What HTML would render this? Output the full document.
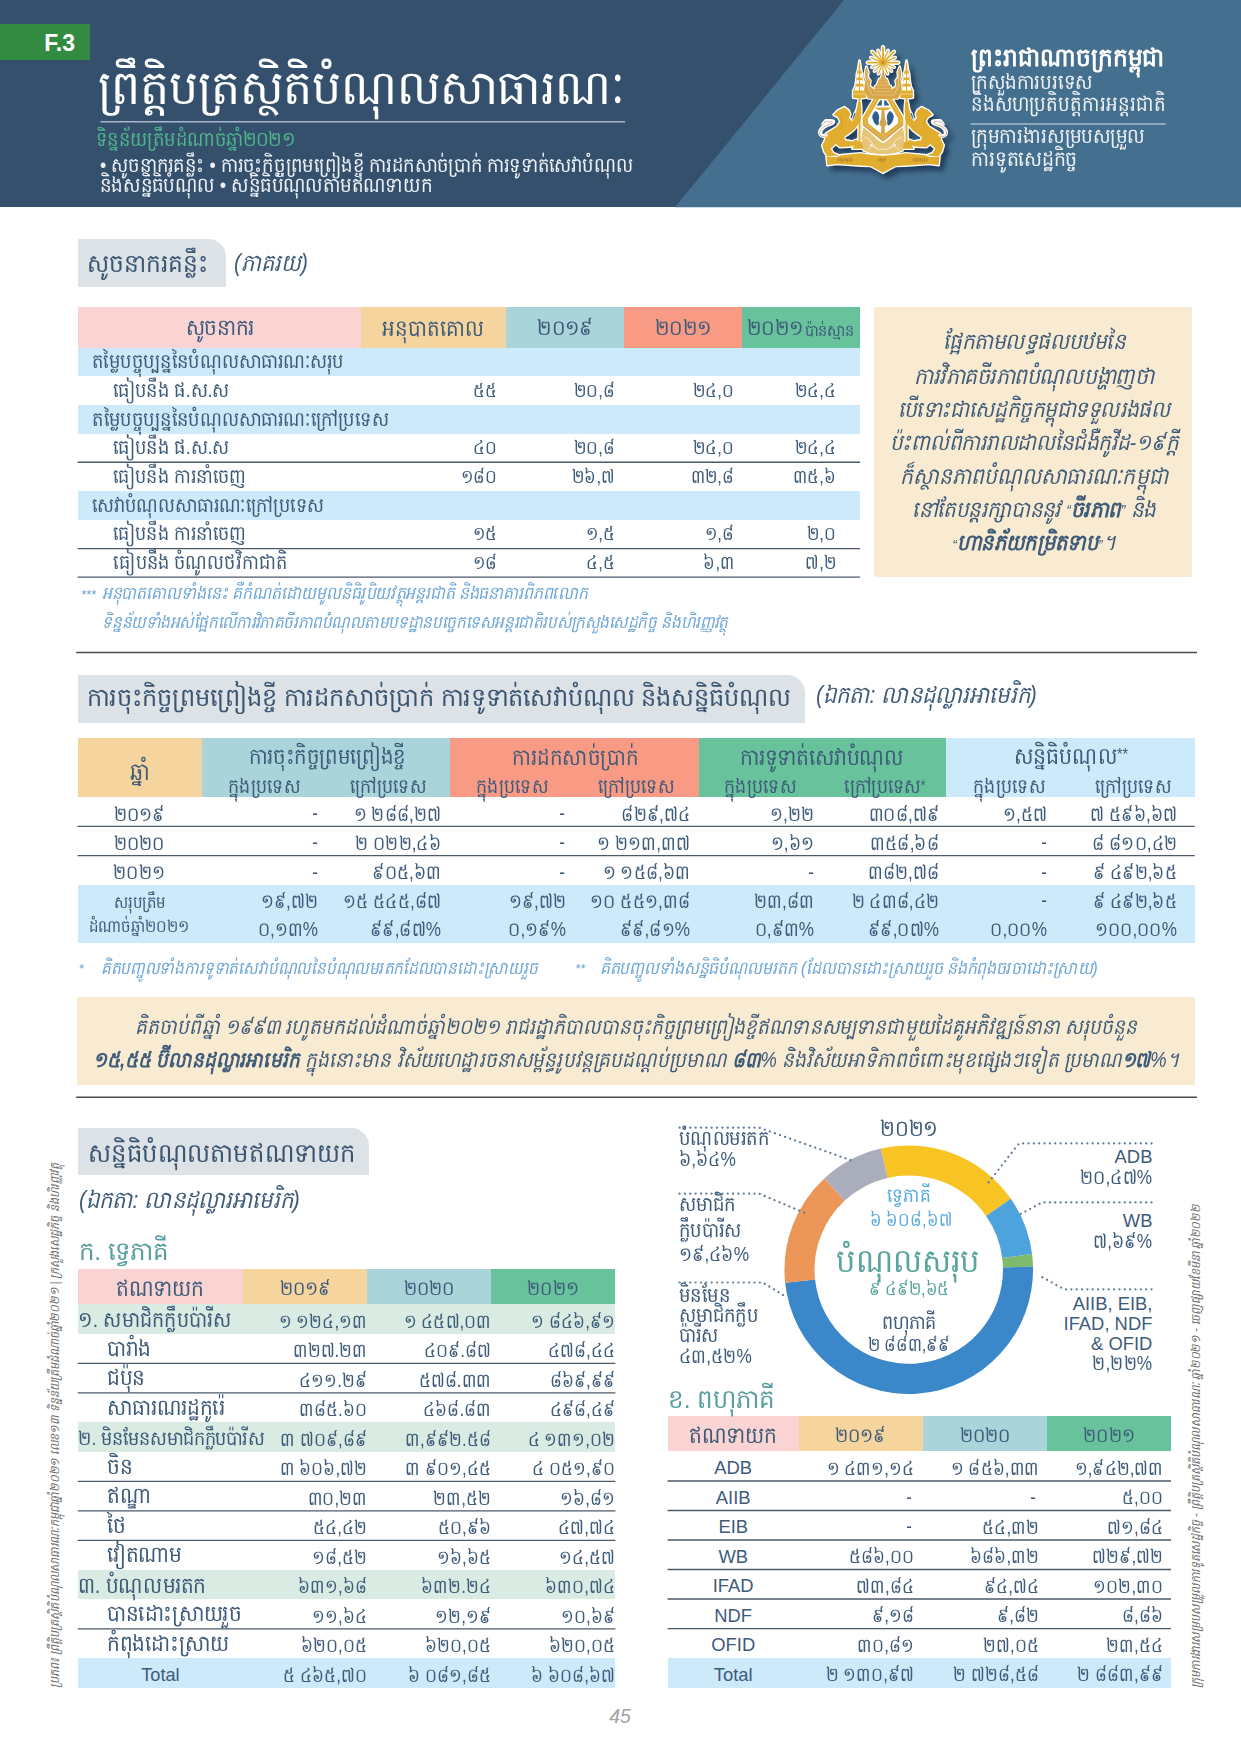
<!DOCTYPE html>
<html lang="km"><head><meta charset="utf-8"><title>F.3</title>
<style>
html,body{margin:0;padding:0;background:#fff}
body{width:1241px;height:1754px;position:relative;overflow:hidden;font-family:"Liberation Sans", sans-serif;color:#3e5b7a}
.r{position:absolute}
.t{position:absolute;white-space:nowrap;line-height:40px;height:40px}
.l{text-align:left;transform-origin:0 50%}.c{text-align:center;width:1800px;transform-origin:50% 50%}.e{text-align:right;width:1800px;transform-origin:100% 50%}
svg{position:absolute;left:0;top:0}
</style></head>
<body>

<div class="r" style="left:0px;top:0px;width:1241px;height:207px;background:#35506c;"></div>
<svg width="1241" height="208" viewBox="0 0 1241 208"><polygon points="844,0 1241,0 1241,207.3 675,207.3" fill="#456f8f"/></svg>
<div class="r" style="left:0px;top:24px;width:90px;height:36px;background:#338a41;"></div>
<div class="r" style="left:78px;top:239px;width:148px;height:48px;background:#dde2e6;border-top-right-radius:18px;"></div>
<div class="r" style="left:78px;top:307px;width:283px;height:41px;background:#f9d4d2;"></div>
<div class="r" style="left:361px;top:307px;width:145px;height:41px;background:#f6d49d;"></div>
<div class="r" style="left:506px;top:307px;width:118px;height:41px;background:#a9d4da;"></div>
<div class="r" style="left:624px;top:307px;width:118px;height:41px;background:#f99b84;"></div>
<div class="r" style="left:742px;top:307px;width:118px;height:41px;background:#68c39d;"></div>
<div class="r" style="left:78px;top:348px;width:782px;height:28px;background:#cdeafb;"></div>
<div class="r" style="left:78px;top:405px;width:782px;height:29px;background:#cdeafb;"></div>
<div class="r" style="left:78px;top:491px;width:782px;height:29px;background:#cdeafb;"></div>
<div class="r" style="left:874px;top:307px;width:318px;height:270px;background:#f8ebd1;"></div>
<div class="r" style="left:78px;top:675px;width:727px;height:48px;background:#dde2e6;border-top-right-radius:18px;"></div>
<div class="r" style="left:78px;top:738px;width:124px;height:59px;background:#f6d49d;"></div>
<div class="r" style="left:202px;top:738px;width:248px;height:59px;background:#a9d4da;"></div>
<div class="r" style="left:450px;top:738px;width:249px;height:59px;background:#f99b84;"></div>
<div class="r" style="left:699px;top:738px;width:247px;height:59px;background:#68c39d;"></div>
<div class="r" style="left:946px;top:738px;width:249px;height:59px;background:#cdeafb;"></div>
<div class="r" style="left:78px;top:885px;width:1117px;height:58px;background:#cdeafb;"></div>
<div class="r" style="left:77px;top:997px;width:1118px;height:88px;background:#f8ebd1;"></div>
<div class="r" style="left:78px;top:1128px;width:291px;height:47px;background:#dde2e6;border-top-right-radius:18px;"></div>
<div class="r" style="left:78px;top:1269px;width:165px;height:35px;background:#f9d4d2;"></div>
<div class="r" style="left:243px;top:1269px;width:124px;height:35px;background:#f6d49d;"></div>
<div class="r" style="left:367px;top:1269px;width:124px;height:35px;background:#a9d4da;"></div>
<div class="r" style="left:491px;top:1269px;width:124px;height:35px;background:#68c39d;"></div>
<div class="r" style="left:78px;top:1304px;width:537px;height:30px;background:#d9ebe2;"></div>
<div class="r" style="left:78px;top:1422px;width:537px;height:30px;background:#d9ebe2;"></div>
<div class="r" style="left:78px;top:1570px;width:537px;height:29px;background:#d9ebe2;"></div>
<div class="r" style="left:78px;top:1658px;width:537px;height:30px;background:#cdeafb;"></div>
<div class="r" style="left:668px;top:1416px;width:131px;height:35px;background:#f9d4d2;"></div>
<div class="r" style="left:799px;top:1416px;width:124px;height:35px;background:#f6d49d;"></div>
<div class="r" style="left:923px;top:1416px;width:124px;height:35px;background:#a9d4da;"></div>
<div class="r" style="left:1047px;top:1416px;width:124px;height:35px;background:#68c39d;"></div>
<div class="r" style="left:668px;top:1658px;width:503px;height:30px;background:#cdeafb;"></div>
<svg width="1241" height="1754" viewBox="0 0 1241 1754">
<line x1="100.5" y1="121.80" x2="625.0" y2="121.80" stroke="#a9b6ca" stroke-width="1.4"/>
<line x1="970.7" y1="124.00" x2="1165.7" y2="124.00" stroke="#a9bdd1" stroke-width="1.6"/>
<line x1="77.6" y1="462.30" x2="860.1" y2="462.30" stroke="#4c596a" stroke-width="1.4"/>
<line x1="77.6" y1="548.60" x2="860.1" y2="548.60" stroke="#4c596a" stroke-width="1.4"/>
<line x1="77.6" y1="577.10" x2="860.1" y2="577.10" stroke="#4c596a" stroke-width="1.4"/>
<line x1="76.2" y1="652.50" x2="1197.0" y2="652.50" stroke="#4a4a4a" stroke-width="1.5"/>
<line x1="76.2" y1="1097.30" x2="1197.0" y2="1097.30" stroke="#4a4a4a" stroke-width="1.5"/>
<line x1="77.6" y1="826.40" x2="1194.8" y2="826.40" stroke="#4c596a" stroke-width="1.4"/>
<line x1="77.6" y1="855.60" x2="1194.8" y2="855.60" stroke="#4c596a" stroke-width="1.4"/>
<line x1="77.7" y1="1363.40" x2="615.4" y2="1363.40" stroke="#4c596a" stroke-width="1.4"/>
<line x1="77.7" y1="1392.90" x2="615.4" y2="1392.90" stroke="#4c596a" stroke-width="1.4"/>
<line x1="77.7" y1="1481.40" x2="615.4" y2="1481.40" stroke="#4c596a" stroke-width="1.4"/>
<line x1="77.7" y1="1510.90" x2="615.4" y2="1510.90" stroke="#4c596a" stroke-width="1.4"/>
<line x1="77.7" y1="1540.40" x2="615.4" y2="1540.40" stroke="#4c596a" stroke-width="1.4"/>
<line x1="77.7" y1="1628.90" x2="615.4" y2="1628.90" stroke="#4c596a" stroke-width="1.4"/>
<line x1="667.6" y1="1480.93" x2="1171.0" y2="1480.93" stroke="#4c596a" stroke-width="1.4"/>
<line x1="667.6" y1="1510.46" x2="1171.0" y2="1510.46" stroke="#4c596a" stroke-width="1.4"/>
<line x1="667.6" y1="1539.99" x2="1171.0" y2="1539.99" stroke="#4c596a" stroke-width="1.4"/>
<line x1="667.6" y1="1569.52" x2="1171.0" y2="1569.52" stroke="#4c596a" stroke-width="1.4"/>
<line x1="667.6" y1="1599.05" x2="1171.0" y2="1599.05" stroke="#4c596a" stroke-width="1.4"/>
<line x1="667.6" y1="1628.58" x2="1171.0" y2="1628.58" stroke="#4c596a" stroke-width="1.4"/>
<path d="M880.79,1148.59 A124.3,124.3 0 0 1 1010.82,1198.76 L986.10,1215.94 A94.2,94.2 0 0 0 887.56,1177.91 Z" fill="#f8c423"/>
<path d="M1010.82,1198.76 A124.3,124.3 0 0 1 1032.07,1254.12 L1002.21,1257.89 A94.2,94.2 0 0 0 986.10,1215.94 Z" fill="#4da4dc"/>
<path d="M1032.07,1254.12 A124.3,124.3 0 0 1 1033.01,1266.66 L1002.92,1267.40 A94.2,94.2 0 0 0 1002.21,1257.89 Z" fill="#7dba6e"/>
<path d="M1033.01,1266.66 A124.3,124.3 0 0 1 785.13,1282.69 L815.07,1279.55 A94.2,94.2 0 0 0 1002.92,1267.40 Z" fill="#3a88c9"/>
<path d="M785.13,1282.69 A124.3,124.3 0 0 1 824.30,1178.50 L844.75,1200.58 A94.2,94.2 0 0 0 815.07,1279.55 Z" fill="#ec9757"/>
<path d="M824.30,1178.50 A124.3,124.3 0 0 1 880.79,1148.59 L887.56,1177.91 A94.2,94.2 0 0 0 844.75,1200.58 Z" fill="#aaaebc"/>
<polyline points="679.5,1127.7 759.3,1127.7 851.5,1160.5" fill="none" stroke="#607b99" stroke-width="2.2" stroke-dasharray="0.1 5.25" stroke-linecap="round"/>
<polyline points="679.5,1193.7 759.3,1193.7 804.5,1212.8" fill="none" stroke="#607b99" stroke-width="2.2" stroke-dasharray="0.1 5.25" stroke-linecap="round"/>
<polyline points="679.5,1282.5 762.8,1282.5 785.5,1296.5" fill="none" stroke="#607b99" stroke-width="2.2" stroke-dasharray="0.1 5.25" stroke-linecap="round"/>
<polyline points="1151.6,1143.4 1019,1143.4 988.5,1182.4" fill="none" stroke="#607b99" stroke-width="2.2" stroke-dasharray="0.1 5.25" stroke-linecap="round"/>
<polyline points="1151.6,1202.4 1042,1202.4 1016.3,1216.3" fill="none" stroke="#607b99" stroke-width="2.2" stroke-dasharray="0.1 5.25" stroke-linecap="round"/>
<polyline points="1151.6,1289.3 1064.2,1289.3 1038.5,1275.1" fill="none" stroke="#607b99" stroke-width="2.2" stroke-dasharray="0.1 5.25" stroke-linecap="round"/>
<g transform="translate(800,30) scale(0.13699)"><g fill="#152c48" stroke="#152c48" stroke-width="14" stroke-linejoin="round" opacity="0.72" transform="translate(34,38)" style="filter:blur(20px)"><polygon points="613,230 613,126 606,119 599,126 599,230" />
<polygon points="613.2,232.3 646.9,151 644.5,145.2 638.6,147.6 604.9,228.9" />
<polygon points="616.3,236.9 689.8,163.4 689.8,154.2 680.6,154.2 607.1,227.7" />
<polygon points="615.1,239.1 696.4,205.4 698.8,199.5 693,197.1 611.7,230.8" />
<polygon points="614,245 718,245 725,238 718,231 614,231" />
<polygon points="611.7,245.2 685.6,275.8 691.5,273.4 689,267.5 615.1,236.9" />
<polygon points="608.5,246.8 665,303.4 671.4,303.4 671.4,297 614.8,240.5" />
<polygon points="604.9,247.1 635.5,321 641.4,323.5 643.8,317.6 613.2,243.7" />
<polygon points="601.5,246 601.5,326 606,330.5 610.5,326 610.5,246" />
<polygon points="598.8,243.7 568.2,317.6 570.6,323.5 576.5,321 607.1,247.1" />
<polygon points="597.2,240.5 540.6,297 540.6,303.4 547,303.4 603.5,246.8" />
<polygon points="596.9,236.9 523,267.5 520.5,273.4 526.4,275.8 600.3,245.2" />
<polygon points="598,231 494,231 487,238 494,245 598,245" />
<polygon points="600.3,230.8 519,197.1 513.2,199.5 515.6,205.4 596.9,239.1" />
<polygon points="604.9,227.7 531.4,154.2 522.2,154.2 522.2,163.4 595.7,236.9" />
<polygon points="607.1,228.9 573.4,147.6 567.5,145.2 565.1,151 598.8,232.3" />
<circle cx="606" cy="238" r="22"/>
<polygon points="434.4,224 446.4,296 453.4,318 457.4,365 465.4,412 480.4,444 480.4,494 441.4,499 441.4,815 456.4,822 464.4,866 382.4,866 404.4,822 427.4,815 427.4,499 388.4,494 388.4,444 403.4,412 411.4,365 415.4,318 422.4,296" />
<polygon points="777.6,224 765.6,296 758.6,318 754.6,365 746.6,412 731.6,444 731.6,494 770.6,499 770.6,815 755.6,822 747.6,866 829.6,866 807.6,822 784.6,815 784.6,499 823.6,494 823.6,444 808.6,412 800.6,365 796.6,318 789.6,296" />
<polygon points="484,268 499,308 495,344 514,370 508,408 534,430 552,468 556,500 498,500 476,452 472,402 481,362 474,322" />
<polygon points="728,268 713,308 717,344 698,370 704,408 678,430 660,468 656,500 714,500 736,452 740,402 731,362 738,322" />
<polygon points="606,294 620,350 634,358 650,402 664,410 682,500 530,500 548,410 562,402 578,358 592,350" />
<polygon points="546,490 666,490 754,640 754,696 606,814 458,696 458,640" />
<polygon points="462,712 520,760 560,800 606,830 652,800 692,760 750,712 762,790 748,880 690,898 606,906 522,898 464,880 450,790" />
<polygon points="188.8,756.9 228.8,731 271.2,705.1 294.7,667.5 275.9,634.5 245.3,618.1 275.9,587.5 322.9,563.9 353.5,585.1 367.7,615.7 355.9,639.2 374.7,662.8 398.3,625.1 417.1,568.6 424.2,526.3 443,523.9 447.7,592.2 443,658.1 417.1,700.4 388.8,733.4 351.2,761.6 322.9,780.5 327.7,804 379.4,813.4 417.1,799.3 431.2,832.2 370,851.1 290,855.8 261.8,832.2 224.1,865.2 242.9,898.1 285.3,914.6 200.6,924 177,888.7 162.9,841.6 181.7,804" />
<polygon points="1023.2,756.9 983.2,731 940.8,705.1 917.3,667.5 936.1,634.5 966.7,618.1 936.1,587.5 889,563.9 858.5,585.1 844.3,615.7 856.1,639.2 837.3,662.8 813.7,625.1 794.9,568.6 787.8,526.3 769,523.9 764.3,592.2 769,658.1 794.9,700.4 823.2,733.4 860.8,761.6 889,780.5 884.3,804 832.6,813.4 794.9,799.3 780.8,832.2 842,851.1 922,855.8 950.2,832.2 987.9,865.2 969.1,898.1 926.7,914.6 1011.4,924 1035,888.7 1049.1,841.6 1030.3,804" />
<polygon points="194,924 262,928 300,914 440,900 520,912 606,918 692,912 772,900 912,914 950,928 1018,924 1012,986 940,978 772,990 700,992 660,1012 606,1042 552,1012 512,992 440,990 272,978 200,986" /><path d="M193.5,768.7 C148.8,785.2 134.7,752.2 158.2,721.6 S191.2,700.4 224.1,684 S245.3,660.4 188.8,665.1 L170,688.7" fill="none" stroke-width="22" stroke-linecap="round"/><path d="M1018.5,768.7 C1063.2,785.2 1077.3,752.2 1053.8,721.6 S1020.8,700.4 987.9,684 S966.7,660.4 1023.2,665.1 L1042,688.7" fill="none" stroke-width="22" stroke-linecap="round"/></g><g fill="#ffffff" stroke="#ffffff" stroke-width="20" stroke-linejoin="round"><polygon points="613,230 613,126 606,119 599,126 599,230" />
<polygon points="613.2,232.3 646.9,151 644.5,145.2 638.6,147.6 604.9,228.9" />
<polygon points="616.3,236.9 689.8,163.4 689.8,154.2 680.6,154.2 607.1,227.7" />
<polygon points="615.1,239.1 696.4,205.4 698.8,199.5 693,197.1 611.7,230.8" />
<polygon points="614,245 718,245 725,238 718,231 614,231" />
<polygon points="611.7,245.2 685.6,275.8 691.5,273.4 689,267.5 615.1,236.9" />
<polygon points="608.5,246.8 665,303.4 671.4,303.4 671.4,297 614.8,240.5" />
<polygon points="604.9,247.1 635.5,321 641.4,323.5 643.8,317.6 613.2,243.7" />
<polygon points="601.5,246 601.5,326 606,330.5 610.5,326 610.5,246" />
<polygon points="598.8,243.7 568.2,317.6 570.6,323.5 576.5,321 607.1,247.1" />
<polygon points="597.2,240.5 540.6,297 540.6,303.4 547,303.4 603.5,246.8" />
<polygon points="596.9,236.9 523,267.5 520.5,273.4 526.4,275.8 600.3,245.2" />
<polygon points="598,231 494,231 487,238 494,245 598,245" />
<polygon points="600.3,230.8 519,197.1 513.2,199.5 515.6,205.4 596.9,239.1" />
<polygon points="604.9,227.7 531.4,154.2 522.2,154.2 522.2,163.4 595.7,236.9" />
<polygon points="607.1,228.9 573.4,147.6 567.5,145.2 565.1,151 598.8,232.3" />
<circle cx="606" cy="238" r="22"/>
<polygon points="434.4,224 446.4,296 453.4,318 457.4,365 465.4,412 480.4,444 480.4,494 441.4,499 441.4,815 456.4,822 464.4,866 382.4,866 404.4,822 427.4,815 427.4,499 388.4,494 388.4,444 403.4,412 411.4,365 415.4,318 422.4,296" />
<polygon points="777.6,224 765.6,296 758.6,318 754.6,365 746.6,412 731.6,444 731.6,494 770.6,499 770.6,815 755.6,822 747.6,866 829.6,866 807.6,822 784.6,815 784.6,499 823.6,494 823.6,444 808.6,412 800.6,365 796.6,318 789.6,296" />
<polygon points="484,268 499,308 495,344 514,370 508,408 534,430 552,468 556,500 498,500 476,452 472,402 481,362 474,322" />
<polygon points="728,268 713,308 717,344 698,370 704,408 678,430 660,468 656,500 714,500 736,452 740,402 731,362 738,322" />
<polygon points="606,294 620,350 634,358 650,402 664,410 682,500 530,500 548,410 562,402 578,358 592,350" />
<polygon points="546,490 666,490 754,640 754,696 606,814 458,696 458,640" />
<polygon points="462,712 520,760 560,800 606,830 652,800 692,760 750,712 762,790 748,880 690,898 606,906 522,898 464,880 450,790" />
<polygon points="188.8,756.9 228.8,731 271.2,705.1 294.7,667.5 275.9,634.5 245.3,618.1 275.9,587.5 322.9,563.9 353.5,585.1 367.7,615.7 355.9,639.2 374.7,662.8 398.3,625.1 417.1,568.6 424.2,526.3 443,523.9 447.7,592.2 443,658.1 417.1,700.4 388.8,733.4 351.2,761.6 322.9,780.5 327.7,804 379.4,813.4 417.1,799.3 431.2,832.2 370,851.1 290,855.8 261.8,832.2 224.1,865.2 242.9,898.1 285.3,914.6 200.6,924 177,888.7 162.9,841.6 181.7,804" />
<polygon points="1023.2,756.9 983.2,731 940.8,705.1 917.3,667.5 936.1,634.5 966.7,618.1 936.1,587.5 889,563.9 858.5,585.1 844.3,615.7 856.1,639.2 837.3,662.8 813.7,625.1 794.9,568.6 787.8,526.3 769,523.9 764.3,592.2 769,658.1 794.9,700.4 823.2,733.4 860.8,761.6 889,780.5 884.3,804 832.6,813.4 794.9,799.3 780.8,832.2 842,851.1 922,855.8 950.2,832.2 987.9,865.2 969.1,898.1 926.7,914.6 1011.4,924 1035,888.7 1049.1,841.6 1030.3,804" />
<polygon points="194,924 262,928 300,914 440,900 520,912 606,918 692,912 772,900 912,914 950,928 1018,924 1012,986 940,978 772,990 700,992 660,1012 606,1042 552,1012 512,992 440,990 272,978 200,986" /><g stroke-width="30"><path d="M193.5,768.7 C148.8,785.2 134.7,752.2 158.2,721.6 S191.2,700.4 224.1,684 S245.3,660.4 188.8,665.1 L170,688.7" fill="none" stroke-linecap="round"/><path d="M1018.5,768.7 C1063.2,785.2 1077.3,752.2 1053.8,721.6 S1020.8,700.4 987.9,684 S966.7,660.4 1023.2,665.1 L1042,688.7" fill="none" stroke-linecap="round"/></g></g><g fill="#e0ad2e"><polygon points="613,230 613,126 606,119 599,126 599,230" />
<polygon points="613.2,232.3 646.9,151 644.5,145.2 638.6,147.6 604.9,228.9" />
<polygon points="616.3,236.9 689.8,163.4 689.8,154.2 680.6,154.2 607.1,227.7" />
<polygon points="615.1,239.1 696.4,205.4 698.8,199.5 693,197.1 611.7,230.8" />
<polygon points="614,245 718,245 725,238 718,231 614,231" />
<polygon points="611.7,245.2 685.6,275.8 691.5,273.4 689,267.5 615.1,236.9" />
<polygon points="608.5,246.8 665,303.4 671.4,303.4 671.4,297 614.8,240.5" />
<polygon points="604.9,247.1 635.5,321 641.4,323.5 643.8,317.6 613.2,243.7" />
<polygon points="601.5,246 601.5,326 606,330.5 610.5,326 610.5,246" />
<polygon points="598.8,243.7 568.2,317.6 570.6,323.5 576.5,321 607.1,247.1" />
<polygon points="597.2,240.5 540.6,297 540.6,303.4 547,303.4 603.5,246.8" />
<polygon points="596.9,236.9 523,267.5 520.5,273.4 526.4,275.8 600.3,245.2" />
<polygon points="598,231 494,231 487,238 494,245 598,245" />
<polygon points="600.3,230.8 519,197.1 513.2,199.5 515.6,205.4 596.9,239.1" />
<polygon points="604.9,227.7 531.4,154.2 522.2,154.2 522.2,163.4 595.7,236.9" />
<polygon points="607.1,228.9 573.4,147.6 567.5,145.2 565.1,151 598.8,232.3" />
<circle cx="606" cy="238" r="22"/>
<polygon points="434.4,224 446.4,296 453.4,318 457.4,365 465.4,412 480.4,444 480.4,494 441.4,499 441.4,815 456.4,822 464.4,866 382.4,866 404.4,822 427.4,815 427.4,499 388.4,494 388.4,444 403.4,412 411.4,365 415.4,318 422.4,296" />
<polygon points="777.6,224 765.6,296 758.6,318 754.6,365 746.6,412 731.6,444 731.6,494 770.6,499 770.6,815 755.6,822 747.6,866 829.6,866 807.6,822 784.6,815 784.6,499 823.6,494 823.6,444 808.6,412 800.6,365 796.6,318 789.6,296" />
<polygon points="484,268 499,308 495,344 514,370 508,408 534,430 552,468 556,500 498,500 476,452 472,402 481,362 474,322" />
<polygon points="728,268 713,308 717,344 698,370 704,408 678,430 660,468 656,500 714,500 736,452 740,402 731,362 738,322" />
<polygon points="606,294 620,350 634,358 650,402 664,410 682,500 530,500 548,410 562,402 578,358 592,350" />
<polygon points="546,490 666,490 754,640 754,696 606,814 458,696 458,640" />
<polygon points="462,712 520,760 560,800 606,830 652,800 692,760 750,712 762,790 748,880 690,898 606,906 522,898 464,880 450,790" />
<polygon points="188.8,756.9 228.8,731 271.2,705.1 294.7,667.5 275.9,634.5 245.3,618.1 275.9,587.5 322.9,563.9 353.5,585.1 367.7,615.7 355.9,639.2 374.7,662.8 398.3,625.1 417.1,568.6 424.2,526.3 443,523.9 447.7,592.2 443,658.1 417.1,700.4 388.8,733.4 351.2,761.6 322.9,780.5 327.7,804 379.4,813.4 417.1,799.3 431.2,832.2 370,851.1 290,855.8 261.8,832.2 224.1,865.2 242.9,898.1 285.3,914.6 200.6,924 177,888.7 162.9,841.6 181.7,804" />
<polygon points="1023.2,756.9 983.2,731 940.8,705.1 917.3,667.5 936.1,634.5 966.7,618.1 936.1,587.5 889,563.9 858.5,585.1 844.3,615.7 856.1,639.2 837.3,662.8 813.7,625.1 794.9,568.6 787.8,526.3 769,523.9 764.3,592.2 769,658.1 794.9,700.4 823.2,733.4 860.8,761.6 889,780.5 884.3,804 832.6,813.4 794.9,799.3 780.8,832.2 842,851.1 922,855.8 950.2,832.2 987.9,865.2 969.1,898.1 926.7,914.6 1011.4,924 1035,888.7 1049.1,841.6 1030.3,804" />
<polygon points="194,924 262,928 300,914 440,900 520,912 606,918 692,912 772,900 912,914 950,928 1018,924 1012,986 940,978 772,990 700,992 660,1012 606,1042 552,1012 512,992 440,990 272,978 200,986" /></g><g fill="#d7a64a"><polygon points="484,268 499,308 495,344 514,370 508,408 534,430 552,468 556,500 498,500 476,452 472,402 481,362 474,322" /><polygon points="728,268 713,308 717,344 698,370 704,408 678,430 660,468 656,500 714,500 736,452 740,402 731,362 738,322" /><polygon points="606,294 620,350 634,358 650,402 664,410 682,500 530,500 548,410 562,402 578,358 592,350" /></g>
<g fill="#e6c578"><polygon points="462,712 520,760 560,800 606,830 652,800 692,760 750,712 762,790 748,880 690,898 606,906 522,898 464,880 450,790" /></g>
<polyline points="470,690 606,800 742,690" fill="none" stroke="#d7a64a" stroke-width="22"/>
<polygon points="419.4,318 430.4,318 430.4,346 412.4,346" fill="#fff"/>
<polygon points="449.4,318 438.4,318 438.4,346 456.4,346" fill="#fff"/>
<polygon points="762.6,318 773.6,318 773.6,346 755.6,346" fill="#fff"/>
<polygon points="792.6,318 781.6,318 781.6,346 799.6,346" fill="#fff"/>
<polygon points="414.4,365 430.4,365 430.4,393 407.4,393" fill="#fff"/>
<polygon points="454.4,365 438.4,365 438.4,393 461.4,393" fill="#fff"/>
<polygon points="757.6,365 773.6,365 773.6,393 750.6,393" fill="#fff"/>
<polygon points="797.6,365 781.6,365 781.6,393 804.6,393" fill="#fff"/>
<polygon points="405.4,412 430.4,412 430.4,442 398.4,442" fill="#fff"/>
<polygon points="463.4,412 438.4,412 438.4,442 470.4,442" fill="#fff"/>
<polygon points="748.6,412 773.6,412 773.6,442 741.6,442" fill="#fff"/>
<polygon points="806.6,412 781.6,412 781.6,442 813.6,442" fill="#fff"/>
<polygon points="430.9,240 424.4,296 430.4,296" fill="#fff"/>
<polygon points="437.9,240 444.4,296 438.4,296" fill="#fff"/>
<rect x="388.4" y="464" width="92" height="6" fill="#fff" opacity="0.55"/>
<polygon points="774.1,240 767.6,296 773.6,296" fill="#fff"/>
<polygon points="781.1,240 787.6,296 781.6,296" fill="#fff"/>
<rect x="731.6" y="464" width="92" height="6" fill="#fff" opacity="0.55"/>
<circle cx="606" cy="238" r="9" fill="#b9862a"/>
<polygon points="578,504 634,504 716,646 716,680 606,768 496,680 496,646" fill="#fff"/>
<polygon points="586,512 597,512 597,552 560,552" fill="#2f5f8c"/>
<polygon points="626,512 615,512 615,552 652,552" fill="#2f5f8c"/>
<polygon points="546,566 666,566 642,584 570,584" fill="#e0ad2e"/>
<polygon points="596,584 616,584 620,640 634,690 618,706 622,762 590,762 594,706 578,690 592,640" fill="#d7a64a"/>
<path d="M556,592 Q588,620 574,660 Q582,690 562,698 Q530,672 527,632 Q534,602 556,592Z" fill="#2f5f8c"/>
<path d="M656,592 Q624,620 638,660 Q630,690 650,698 Q682,672 685,632 Q678,602 656,592Z" fill="#2f5f8c"/>
<polyline points="560,497 476,644 476,688 606,792 736,688 736,644 652,497" fill="none" stroke="#fff" stroke-width="3" opacity="0.6"/>
<line x1="575.12" y1="358" x2="636.88" y2="358" stroke="#f3dfb0" stroke-width="3"/>
<line x1="567.2" y1="380" x2="644.8" y2="380" stroke="#f3dfb0" stroke-width="3"/>
<line x1="559.28" y1="402" x2="652.72" y2="402" stroke="#f3dfb0" stroke-width="3"/>
<line x1="550.64" y1="426" x2="661.36" y2="426" stroke="#f3dfb0" stroke-width="3"/>
<line x1="542" y1="450" x2="670" y2="450" stroke="#f3dfb0" stroke-width="3"/>
<line x1="533.36" y1="474" x2="678.64" y2="474" stroke="#f3dfb0" stroke-width="3"/>
<path d="M470,780 Q520,800 540,850 Q560,880 606,868 Q652,880 672,850 Q692,800 742,780" fill="none" stroke="#fff" stroke-width="6" opacity="0.75"/>
<path d="M490,880 Q520,830 560,860 M722,880 Q692,830 652,860" fill="none" stroke="#fff" stroke-width="5" opacity="0.7"/>
<circle cx="520" cy="840" r="9" fill="#fff" opacity="0.7"/><circle cx="692" cy="840" r="9" fill="#fff" opacity="0.7"/>
<path d="M488,300 Q500,360 492,400 Q505,440 530,480" fill="none" stroke="#fff" stroke-width="4" opacity="0.7"/>
<path d="M193.5,768.7 C148.8,785.2 134.7,752.2 158.2,721.6 S191.2,700.4 224.1,684 S245.3,660.4 188.8,665.1 L170,688.7" fill="none" stroke="#fff" stroke-width="18" stroke-linecap="round"/>
<path d="M193.5,768.7 C148.8,785.2 134.7,752.2 158.2,721.6 S191.2,700.4 224.1,684 S245.3,660.4 188.8,665.1 L170,688.7" fill="none" stroke="#a8602c" stroke-width="3.5" stroke-linecap="round" transform="translate(-5,5)"/>
<polygon points="392.6,597.8 413.3,586.5 402,629.8 388.8,659 371.9,663.7 383.2,629.8" fill="#fff"/>
<polygon points="395.9,608.6 406.7,602.5 398.3,632.2 387.9,652.4 380.4,655.2 388.8,632.2" fill="#35628c"/>
<path d="M292,640 Q318,690 296,720" fill="none" stroke="#b9862a" stroke-width="4" opacity="0.8"/>
<path d="M724,300 Q712,360 720,400 Q707,440 682,480" fill="none" stroke="#fff" stroke-width="4" opacity="0.7"/>
<path d="M1018.5,768.7 C1063.2,785.2 1077.3,752.2 1053.8,721.6 S1020.8,700.4 987.9,684 S966.7,660.4 1023.2,665.1 L1042,688.7" fill="none" stroke="#fff" stroke-width="18" stroke-linecap="round"/>
<path d="M1018.5,768.7 C1063.2,785.2 1077.3,752.2 1053.8,721.6 S1020.8,700.4 987.9,684 S966.7,660.4 1023.2,665.1 L1042,688.7" fill="none" stroke="#a8602c" stroke-width="3.5" stroke-linecap="round" transform="translate(5,5)"/>
<polygon points="819.4,597.8 798.7,586.5 810,629.8 823.2,659 840.1,663.7 828.8,629.8" fill="#fff"/>
<polygon points="816.1,608.6 805.3,602.5 813.7,632.2 824.1,652.4 831.6,655.2 823.2,632.2" fill="#35628c"/>
<path d="M920,640 Q894,690 916,720" fill="none" stroke="#b9862a" stroke-width="4" opacity="0.8"/>
<rect x="276" y="936" width="10" height="24" fill="#b9862a"/>
<rect x="292" y="932" width="10" height="30" fill="#b9862a"/>
<rect x="308" y="936" width="10" height="30" fill="#b9862a"/>
<rect x="324" y="932" width="10" height="24" fill="#b9862a"/>
<rect x="340" y="936" width="10" height="30" fill="#b9862a"/>
<rect x="356" y="932" width="10" height="30" fill="#b9862a"/>
<rect x="372" y="936" width="10" height="24" fill="#b9862a"/>
<rect x="570" y="936" width="10" height="24" fill="#b9862a"/>
<rect x="586" y="932" width="10" height="30" fill="#b9862a"/>
<rect x="602" y="936" width="10" height="30" fill="#b9862a"/>
<rect x="618" y="932" width="10" height="24" fill="#b9862a"/>
<rect x="824" y="936" width="10" height="24" fill="#b9862a"/>
<rect x="840" y="932" width="10" height="30" fill="#b9862a"/>
<rect x="856" y="936" width="10" height="30" fill="#b9862a"/>
<rect x="872" y="932" width="10" height="24" fill="#b9862a"/>
<rect x="888" y="936" width="10" height="30" fill="#b9862a"/>
<rect x="904" y="932" width="10" height="30" fill="#b9862a"/>
<rect x="920" y="936" width="10" height="24" fill="#b9862a"/>
<polygon points="586,1000 626,1000 606,1024" fill="#d7a64a"/></g>
</svg>
<div class="t c" style="top:22.93px;font-size:23.00px;color:#ffffff;font-weight:bold;left:-840.30px;">F.3</div>
<div class="t l" style="top:68.37px;font-size:47.71px;color:#ffffff;font-weight:300;transform:scaleX(0.9599);left:98.40px;">ព្រឹត្តិបត្រស្ថិតិបំណុលសាធារណៈ</div>
<div class="t l" style="top:118.96px;font-size:20.32px;color:#4fb48c;transform:scaleX(0.8844);left:96.40px;">ទិន្នន័យត្រឹមដំណាច់ឆ្នាំ២០២១</div>
<div class="t l" style="top:145.45px;font-size:20.35px;color:#eef2f6;transform:scaleX(0.8868);left:100.40px;">• សូចនាករគន្លឹះ • ការចុះកិច្ចព្រមព្រៀងខ្ចី ការដកសាច់ប្រាក់ ការទូទាត់សេវាបំណុល</div>
<div class="t l" style="top:164.79px;font-size:20.80px;color:#eef2f6;transform:scaleX(0.8811);left:100.20px;">និងសន្និធិបំណុល • សន្និធិបំណុលតាមឥណទាយក</div>
<div class="t l" style="top:36.88px;font-size:25.17px;color:#ffffff;font-weight:bold;transform:scaleX(0.921);left:970.90px;">ព្រះរាជាណាចក្រកម្ពុជា</div>
<div class="t l" style="top:62.44px;font-size:20.94px;color:#eef2f6;transform:scaleX(0.8777);left:970.90px;">ក្រសួងការបរទេស</div>
<div class="t l" style="top:84.01px;font-size:21.33px;color:#eef2f6;transform:scaleX(0.8561);left:970.90px;">និងសហប្រតិបត្តិការអន្តរជាតិ</div>
<div class="t l" style="top:116.14px;font-size:20.96px;color:#eef2f6;transform:scaleX(0.8827);left:970.90px;">ក្រុមការងារសម្របសម្រួល</div>
<div class="t l" style="top:138.86px;font-size:21.19px;color:#eef2f6;transform:scaleX(0.8899);left:970.90px;">ការទូតសេដ្ឋកិច្ច</div>
<div class="t l" style="top:242.67px;font-size:25.20px;color:#3a5572;font-weight:500;transform:scaleX(0.9252);left:87.10px;">សូចនាករគន្លឹះ</div>
<div class="t l" style="top:242.69px;font-size:23.98px;font-style:italic;transform:scaleX(0.8709);left:234.40px;">(ភាគរយ)</div>
<div class="t c" style="top:308.40px;font-size:22.50px;transform:scaleX(0.8922);left:-680.30px;">សូចនាករ</div>
<div class="t c" style="top:308.25px;font-size:22.95px;transform:scaleX(0.8644);left:-467.50px;">អនុបាតគោល</div>
<div class="t c" style="top:308.17px;font-size:21.45px;transform:scaleX(0.8919);left:-335.40px;">២០១៩</div>
<div class="t c" style="top:308.17px;font-size:21.45px;transform:scaleX(0.8919);left:-217.50px;">២០២១</div>
<div class="t l" style="top:308.17px;font-size:21.45px;transform:scaleX(0.8919);left:747.20px;">២០២១</div>
<div class="t l" style="top:309.61px;font-size:16.13px;transform:scaleX(0.8945);left:805.40px;">ប៉ាន់ស្មាន</div>
<div class="t l" style="top:341.40px;font-size:20.28px;transform:scaleX(0.8835);left:92.30px;">តម្លៃបច្ចុប្បន្ននៃបំណុលសាធារណៈសរុប</div>
<div class="t l" style="top:370.04px;font-size:20.34px;transform:scaleX(0.8806);left:112.90px;">ធៀបនឹង ផ.ស.ស</div>
<div class="t e" style="top:370.88px;font-size:19.08px;transform:scaleX(0.8679);left:-1303.40px;">៥៥</div>
<div class="t e" style="top:370.88px;font-size:19.08px;transform:scaleX(0.8679);left:-1185.00px;">២០,៨</div>
<div class="t e" style="top:370.88px;font-size:19.08px;transform:scaleX(0.8679);left:-1066.50px;">២៤,០</div>
<div class="t e" style="top:370.88px;font-size:19.08px;transform:scaleX(0.8679);left:-963.70px;">២៤,៤</div>
<div class="t l" style="top:398.72px;font-size:20.29px;transform:scaleX(0.8851);left:92.30px;">តម្លៃបច្ចុប្បន្ននៃបំណុលសាធារណៈក្រៅប្រទេស</div>
<div class="t l" style="top:427.36px;font-size:20.34px;transform:scaleX(0.8806);left:112.90px;">ធៀបនឹង ផ.ស.ស</div>
<div class="t e" style="top:428.20px;font-size:19.08px;transform:scaleX(0.8679);left:-1303.40px;">៤០</div>
<div class="t e" style="top:428.20px;font-size:19.08px;transform:scaleX(0.8679);left:-1185.00px;">២០,៨</div>
<div class="t e" style="top:428.20px;font-size:19.08px;transform:scaleX(0.8679);left:-1066.50px;">២៤,០</div>
<div class="t e" style="top:428.20px;font-size:19.08px;transform:scaleX(0.8679);left:-963.70px;">២៤,៤</div>
<div class="t l" style="top:456.11px;font-size:20.08px;transform:scaleX(0.8773);left:112.90px;">ធៀបនឹង ការនាំចេញ</div>
<div class="t e" style="top:456.86px;font-size:19.08px;transform:scaleX(0.8679);left:-1303.40px;">១៨០</div>
<div class="t e" style="top:456.86px;font-size:19.08px;transform:scaleX(0.8679);left:-1185.00px;">២៦,៧</div>
<div class="t e" style="top:456.86px;font-size:19.08px;transform:scaleX(0.8679);left:-1066.50px;">៣២,៨</div>
<div class="t e" style="top:456.86px;font-size:19.08px;transform:scaleX(0.8679);left:-963.70px;">៣៥,៦</div>
<div class="t l" style="top:484.79px;font-size:20.02px;transform:scaleX(0.8889);left:92.30px;">សេវាបំណុលសាធារណៈក្រៅប្រទេស</div>
<div class="t l" style="top:513.43px;font-size:20.08px;transform:scaleX(0.8773);left:112.90px;">ធៀបនឹង ការនាំចេញ</div>
<div class="t e" style="top:514.18px;font-size:19.08px;transform:scaleX(0.8679);left:-1303.40px;">១៥</div>
<div class="t e" style="top:514.18px;font-size:19.08px;transform:scaleX(0.8679);left:-1185.00px;">១,៥</div>
<div class="t e" style="top:514.18px;font-size:19.08px;transform:scaleX(0.8679);left:-1066.50px;">១,៨</div>
<div class="t e" style="top:514.18px;font-size:19.08px;transform:scaleX(0.8679);left:-963.70px;">២,០</div>
<div class="t l" style="top:541.95px;font-size:20.49px;transform:scaleX(0.8661);left:112.90px;">ធៀបនឹង ចំណូលថវិកាជាតិ</div>
<div class="t e" style="top:542.84px;font-size:19.08px;transform:scaleX(0.8679);left:-1303.40px;">១៨</div>
<div class="t e" style="top:542.84px;font-size:19.08px;transform:scaleX(0.8679);left:-1185.00px;">៤,៥</div>
<div class="t e" style="top:542.84px;font-size:19.08px;transform:scaleX(0.8679);left:-1066.50px;">៦,៣</div>
<div class="t e" style="top:542.84px;font-size:19.08px;transform:scaleX(0.8679);left:-963.70px;">៧,២</div>
<div class="t l" style="top:574.90px;font-size:13.00px;color:#6ea6d6;font-style:italic;left:80.70px;">***</div>
<div class="t l" style="top:573.43px;font-size:17.82px;color:#6ea6d6;font-style:italic;transform:scaleX(0.8816);left:102.40px;">អនុបាតគោលទាំងនេះ គឺកំណត់ដោយមូលនិធិរូបិយវត្ថុអន្តរជាតិ និងធនាគារពិភពលោក</div>
<div class="t l" style="top:602.03px;font-size:17.22px;color:#6ea6d6;font-style:italic;transform:scaleX(0.8895);left:102.40px;">ទិន្នន័យទាំងអស់ផ្អែកលើការវិភាគចីរភាពបំណុលតាមបទដ្ឋានបច្ចេកទេសអន្តរជាតិរបស់ក្រសួងសេដ្ឋកិច្ច និងហិរញ្ញវត្ថុ</div>
<div class="t c" style="top:321.77px;font-size:22.60px;font-style:italic;transform:scaleX(0.8878);left:133.60px;">ផ្អែកតាមលទ្ធផលបឋមនៃ</div>
<div class="t c" style="top:356.22px;font-size:22.74px;font-style:italic;transform:scaleX(0.8937);left:133.60px;">ការវិភាគចីរភាពបំណុលបង្ហាញថា</div>
<div class="t c" style="top:389.77px;font-size:22.60px;font-style:italic;transform:scaleX(0.8883);left:133.60px;">បើទោះជាសេដ្ឋកិច្ចកម្ពុជាទទួលរងផល</div>
<div class="t c" style="top:422.92px;font-size:22.46px;font-style:italic;transform:scaleX(0.8903);left:133.60px;">ប៉ះពាល់ពីការរាលដាលនៃជំងឺកូវីដ-១៩ក្តី</div>
<div class="t c" style="top:456.49px;font-size:23.11px;font-style:italic;transform:scaleX(0.8758);left:133.60px;">ក៏ស្ថានភាពបំណុលសាធារណៈកម្ពុជា</div>
<div class="t c" style="top:489.85px;font-size:22.38px;font-style:italic;transform:scaleX(0.8887);left:133.60px;">នៅតែបន្តរក្សាបាននូវ <span style="font-size:70%">“</span><b>ចីរភាព</b><span style="font-size:70%">”</span> និង</div>
<div class="t c" style="top:523.10px;font-size:22.23px;font-style:italic;transform:scaleX(0.8784);left:133.60px;"><span style="font-size:70%">“</span><b>ហានិភ័យកម្រិតទាប</b><span style="font-size:70%">”</span>។</div>
<div class="t l" style="top:677.44px;font-size:25.57px;color:#3a5572;font-weight:500;transform:scaleX(0.9372);left:87.10px;">ការចុះកិច្ចព្រមព្រៀងខ្ចី ការដកសាច់ប្រាក់ ការទូទាត់សេវាបំណុល និងសន្និធិបំណុល</div>
<div class="t l" style="top:675.23px;font-size:24.16px;font-style:italic;transform:scaleX(0.8784);left:815.80px;">(ឯកតា: លានដុល្លារអាមេរិក)</div>
<div class="t c" style="top:751.50px;font-size:24.52px;transform:scaleX(0.8458);left:-760.50px;">ឆ្នាំ</div>
<div class="t c" style="top:736.75px;font-size:22.37px;transform:scaleX(0.8803);left:-573.40px;">ការចុះកិច្ចព្រមព្រៀងខ្ចី</div>
<div class="t c" style="top:736.56px;font-size:22.91px;transform:scaleX(0.8639);left:-325.40px;">ការដកសាច់ប្រាក់</div>
<div class="t c" style="top:736.60px;font-size:22.80px;transform:scaleX(0.8918);left:-77.70px;">ការទូទាត់សេវាបំណុល</div>
<div class="t c" style="top:736.38px;font-size:23.42px;transform:scaleX(0.8744);left:171.40px;">សន្និធិបំណុល<span style="font-size:70%;position:relative;top:-0.25em">**</span></div>
<div class="t c" style="top:766.24px;font-size:20.09px;transform:scaleX(0.8687);left:-636.20px;">ក្នុងប្រទេស</div>
<div class="t c" style="top:766.24px;font-size:20.09px;transform:scaleX(0.8687);left:-387.70px;">ក្នុងប្រទេស</div>
<div class="t c" style="top:766.24px;font-size:20.09px;transform:scaleX(0.8687);left:-139.70px;">ក្នុងប្រទេស</div>
<div class="t c" style="top:766.24px;font-size:20.09px;transform:scaleX(0.8687);left:108.90px;">ក្នុងប្រទេស</div>
<div class="t c" style="top:766.24px;font-size:20.09px;transform:scaleX(0.8687);left:-511.80px;">ក្រៅប្រទេស</div>
<div class="t c" style="top:766.24px;font-size:20.09px;transform:scaleX(0.8687);left:-264.00px;">ក្រៅប្រទេស</div>
<div class="t c" style="top:766.24px;font-size:20.09px;transform:scaleX(0.8687);left:232.80px;">ក្រៅប្រទេស</div>
<div class="t c" style="top:766.24px;font-size:20.09px;transform:scaleX(0.8687);left:-14.60px;">ក្រៅប្រទេស<span style="font-size:70%;position:relative;top:-0.25em">*</span></div>
<div class="t c" style="top:793.56px;font-size:19.75px;transform:scaleX(0.8776);left:-760.80px;">២០១៩</div>
<div class="t e" style="top:793.10px;font-size:19.63px;transform:scaleX(0.8754);left:-1482.20px;">-</div>
<div class="t e" style="top:793.60px;font-size:19.63px;transform:scaleX(0.8754);left:-1359.10px;">១ ២៨៨,២៧</div>
<div class="t e" style="top:793.10px;font-size:19.63px;transform:scaleX(0.8754);left:-1235.00px;">-</div>
<div class="t e" style="top:793.60px;font-size:19.63px;transform:scaleX(0.8754);left:-1110.40px;">៨២៩,៧៤</div>
<div class="t e" style="top:793.60px;font-size:19.63px;transform:scaleX(0.8754);left:-985.90px;">១,២២</div>
<div class="t e" style="top:793.60px;font-size:19.63px;transform:scaleX(0.8754);left:-861.30px;">៣០៨,៧៩</div>
<div class="t e" style="top:793.60px;font-size:19.63px;transform:scaleX(0.8754);left:-752.90px;">១,៥៧</div>
<div class="t e" style="top:793.60px;font-size:19.63px;transform:scaleX(0.8754);left:-623.10px;">៧ ៥៩៦,៦៧</div>
<div class="t c" style="top:822.66px;font-size:19.75px;transform:scaleX(0.8776);left:-760.80px;">២០២០</div>
<div class="t e" style="top:822.20px;font-size:19.63px;transform:scaleX(0.8754);left:-1482.20px;">-</div>
<div class="t e" style="top:822.70px;font-size:19.63px;transform:scaleX(0.8754);left:-1359.10px;">២ ០២២,៤៦</div>
<div class="t e" style="top:822.20px;font-size:19.63px;transform:scaleX(0.8754);left:-1235.00px;">-</div>
<div class="t e" style="top:822.70px;font-size:19.63px;transform:scaleX(0.8754);left:-1110.40px;">១ ២១៣,៣៧</div>
<div class="t e" style="top:822.70px;font-size:19.63px;transform:scaleX(0.8754);left:-985.90px;">១,៦១</div>
<div class="t e" style="top:822.70px;font-size:19.63px;transform:scaleX(0.8754);left:-861.30px;">៣៥៨,៦៨</div>
<div class="t e" style="top:822.20px;font-size:19.63px;transform:scaleX(0.8754);left:-753.40px;">-</div>
<div class="t e" style="top:822.70px;font-size:19.63px;transform:scaleX(0.8754);left:-623.10px;">៨ ៨១០,៤២</div>
<div class="t c" style="top:851.96px;font-size:19.75px;transform:scaleX(0.8776);left:-760.80px;">២០២១</div>
<div class="t e" style="top:851.50px;font-size:19.63px;transform:scaleX(0.8754);left:-1482.20px;">-</div>
<div class="t e" style="top:852.00px;font-size:19.63px;transform:scaleX(0.8754);left:-1359.10px;">៩០៥,៦៣</div>
<div class="t e" style="top:851.50px;font-size:19.63px;transform:scaleX(0.8754);left:-1235.00px;">-</div>
<div class="t e" style="top:852.00px;font-size:19.63px;transform:scaleX(0.8754);left:-1110.40px;">១ ១៥៨,៦៣</div>
<div class="t e" style="top:851.50px;font-size:19.63px;transform:scaleX(0.8754);left:-986.40px;">-</div>
<div class="t e" style="top:852.00px;font-size:19.63px;transform:scaleX(0.8754);left:-861.30px;">៣៨២,៧៨</div>
<div class="t e" style="top:851.50px;font-size:19.63px;transform:scaleX(0.8754);left:-753.40px;">-</div>
<div class="t e" style="top:852.00px;font-size:19.63px;transform:scaleX(0.8754);left:-623.10px;">៩ ៤៩២,៦៥</div>
<div class="t e" style="top:880.60px;font-size:19.63px;transform:scaleX(0.8754);left:-1481.70px;">១៩,៧២</div>
<div class="t e" style="top:880.60px;font-size:19.63px;transform:scaleX(0.8754);left:-1359.10px;">១៥ ៥៤៥,៨៧</div>
<div class="t e" style="top:880.60px;font-size:19.63px;transform:scaleX(0.8754);left:-1234.50px;">១៩,៧២</div>
<div class="t e" style="top:880.60px;font-size:19.63px;transform:scaleX(0.8754);left:-1110.40px;">១០ ៥៥១,៣៨</div>
<div class="t e" style="top:880.60px;font-size:19.63px;transform:scaleX(0.8754);left:-985.90px;">២៣,៨៣</div>
<div class="t e" style="top:880.60px;font-size:19.63px;transform:scaleX(0.8754);left:-861.30px;">២ ៤៣៨,៤២</div>
<div class="t e" style="top:880.10px;font-size:19.63px;transform:scaleX(0.8754);left:-753.40px;">-</div>
<div class="t e" style="top:880.60px;font-size:19.63px;transform:scaleX(0.8754);left:-623.10px;">៩ ៤៩២,៦៥</div>
<div class="t e" style="top:909.20px;font-size:19.63px;transform:scaleX(0.8754);left:-1481.70px;">០,១៣%</div>
<div class="t e" style="top:909.20px;font-size:19.63px;transform:scaleX(0.8754);left:-1359.10px;">៩៩,៨៧%</div>
<div class="t e" style="top:909.20px;font-size:19.63px;transform:scaleX(0.8754);left:-1234.50px;">០,១៩%</div>
<div class="t e" style="top:909.20px;font-size:19.63px;transform:scaleX(0.8754);left:-1110.40px;">៩៩,៨១%</div>
<div class="t e" style="top:909.20px;font-size:19.63px;transform:scaleX(0.8754);left:-985.90px;">០,៩៣%</div>
<div class="t e" style="top:909.20px;font-size:19.63px;transform:scaleX(0.8754);left:-861.30px;">៩៩,០៧%</div>
<div class="t e" style="top:909.20px;font-size:19.63px;transform:scaleX(0.8754);left:-752.90px;">០,០០%</div>
<div class="t e" style="top:909.20px;font-size:19.63px;transform:scaleX(0.8754);left:-623.10px;">១០០,០០%</div>
<div class="t c" style="top:883.08px;font-size:17.08px;transform:scaleX(0.878);left:-760.20px;">សរុបត្រឹម</div>
<div class="t c" style="top:906.70px;font-size:17.03px;transform:scaleX(0.8765);left:-760.60px;">ដំណាច់ឆ្នាំ២០២១</div>
<div class="t l" style="top:948.90px;font-size:13.00px;color:#6ea6d6;font-style:italic;left:78.40px;">*</div>
<div class="t l" style="top:947.59px;font-size:17.63px;color:#6ea6d6;font-style:italic;transform:scaleX(0.8723);left:101.20px;">គិតបញ្ចូលទាំងការទូទាត់សេវាបំណុលនៃបំណុលមរតកដែលបានដោះស្រាយរួច</div>
<div class="t l" style="top:948.90px;font-size:13.00px;color:#6ea6d6;font-style:italic;left:574.90px;">**</div>
<div class="t l" style="top:947.53px;font-size:17.82px;color:#6ea6d6;font-style:italic;transform:scaleX(0.8814);left:599.90px;">គិតបញ្ចូលទាំងសន្និធិបំណុលមរតក (ដែលបានដោះស្រាយរួច និងកំពុងចរចាដោះស្រាយ)</div>
<div class="t c" style="top:1006.58px;font-size:21.40px;font-style:italic;transform:scaleX(0.8639);left:-263.60px;">គិតចាប់ពីឆ្នាំ ១៩៩៣ រហូតមកដល់ដំណាច់ឆ្នាំ២០២១ រាជរដ្ឋាភិបាលបានចុះកិច្ចព្រមព្រៀងខ្ចីឥណទានសម្បទានជាមួយដៃគូអភិវឌ្ឍន៍នានា សរុបចំនួន</div>
<div class="t c" style="top:1039.62px;font-size:21.30px;font-style:italic;transform:scaleX(0.8646);left:-263.60px;"><b>១៥,៥៥ ប៊ីលានដុល្លារអាមេរិក</b> ក្នុងនោះមាន វិស័យហេដ្ឋារចនាសម្ព័ន្ធរូបវន្តគ្របដណ្តប់ប្រមាណ <b>៨៣</b>% និងវិស័យអាទិភាពចំពោះមុខផ្សេងៗទៀត ប្រមាណ<b>១៧</b>%។</div>
<div class="t l" style="top:1133.09px;font-size:26.28px;color:#3a5572;font-weight:500;transform:scaleX(0.9206);left:87.70px;">សន្និធិបំណុលតាមឥណទាយក</div>
<div class="t l" style="top:1179.83px;font-size:24.16px;font-style:italic;transform:scaleX(0.8784);left:79.00px;">(ឯកតា: លានដុល្លារអាមេរិក)</div>
<div class="t l" style="top:1231.02px;font-size:25.91px;color:#5a9ea1;transform:scaleX(0.9467);left:78.60px;">ក. ទ្វេភាគី</div>
<div class="t c" style="top:1267.91px;font-size:22.78px;transform:scaleX(0.8848);left:-739.60px;">ឥណទាយក</div>
<div class="t c" style="top:1268.34px;font-size:19.79px;transform:scaleX(0.8793);left:-595.10px;">២០១៩</div>
<div class="t c" style="top:1268.34px;font-size:19.79px;transform:scaleX(0.8793);left:-470.80px;">២០២០</div>
<div class="t c" style="top:1268.34px;font-size:19.79px;transform:scaleX(0.8793);left:-346.70px;">២០២១</div>
<div class="t l" style="top:1299.54px;font-size:21.96px;transform:scaleX(0.8715);left:78.40px;">១. សមាជិកក្លឹបប៉ារីស</div>
<div class="t e" style="top:1300.69px;font-size:19.50px;transform:scaleX(0.8665);left:-1432.80px;">១ ១២៤,១៣</div>
<div class="t e" style="top:1300.69px;font-size:19.50px;transform:scaleX(0.8665);left:-1308.90px;">១ ៤៥៧,០៣</div>
<div class="t e" style="top:1300.69px;font-size:19.50px;transform:scaleX(0.8665);left:-1185.00px;">១ ៨៤៦,៩១</div>
<div class="t l" style="top:1328.87px;font-size:22.46px;transform:scaleX(0.8939);left:107.10px;">បារាំង</div>
<div class="t e" style="top:1330.19px;font-size:19.50px;transform:scaleX(0.8665);left:-1432.80px;">៣២៧.២៣</div>
<div class="t e" style="top:1330.19px;font-size:19.50px;transform:scaleX(0.8665);left:-1308.90px;">៤០៩.៨៧</div>
<div class="t e" style="top:1330.19px;font-size:19.50px;transform:scaleX(0.8665);left:-1185.00px;">៤៧៨,៤៤</div>
<div class="t l" style="top:1358.37px;font-size:22.46px;transform:scaleX(0.8939);left:107.10px;">ជប៉ុន</div>
<div class="t e" style="top:1359.69px;font-size:19.50px;transform:scaleX(0.8665);left:-1432.80px;">៤១១.២៩</div>
<div class="t e" style="top:1359.69px;font-size:19.50px;transform:scaleX(0.8665);left:-1308.90px;">៥៧៨.៣៣</div>
<div class="t e" style="top:1359.69px;font-size:19.50px;transform:scaleX(0.8665);left:-1185.00px;">៨៦៩,៩៩</div>
<div class="t l" style="top:1387.87px;font-size:22.46px;transform:scaleX(0.8939);left:107.10px;">សាធារណរដ្ឋកូរ៉េ</div>
<div class="t e" style="top:1389.19px;font-size:19.50px;transform:scaleX(0.8665);left:-1432.80px;">៣៨៥.៦០</div>
<div class="t e" style="top:1389.19px;font-size:19.50px;transform:scaleX(0.8665);left:-1308.90px;">៤៦៨.៨៣</div>
<div class="t e" style="top:1389.19px;font-size:19.50px;transform:scaleX(0.8665);left:-1185.00px;">៤៩៨,៤៩</div>
<div class="t l" style="top:1418.33px;font-size:19.67px;transform:scaleX(0.8978);left:78.40px;">២. មិនមែនសមាជិកក្លឹបប៉ារីស</div>
<div class="t e" style="top:1418.69px;font-size:19.50px;transform:scaleX(0.8665);left:-1432.80px;">៣ ៧០៩,៨៩</div>
<div class="t e" style="top:1418.69px;font-size:19.50px;transform:scaleX(0.8665);left:-1308.90px;">៣,៩៩២.៥៨</div>
<div class="t e" style="top:1418.69px;font-size:19.50px;transform:scaleX(0.8665);left:-1185.00px;">៤ ១៣១,០២</div>
<div class="t l" style="top:1446.87px;font-size:22.46px;transform:scaleX(0.8939);left:107.10px;">ចិន</div>
<div class="t e" style="top:1448.19px;font-size:19.50px;transform:scaleX(0.8665);left:-1432.80px;">៣ ៦០៦,៧២</div>
<div class="t e" style="top:1448.19px;font-size:19.50px;transform:scaleX(0.8665);left:-1308.90px;">៣ ៩០១,៤៥</div>
<div class="t e" style="top:1448.19px;font-size:19.50px;transform:scaleX(0.8665);left:-1185.00px;">៤ ០៥១,៩០</div>
<div class="t l" style="top:1476.37px;font-size:22.46px;transform:scaleX(0.8939);left:107.10px;">ឥណ្ឌា</div>
<div class="t e" style="top:1477.69px;font-size:19.50px;transform:scaleX(0.8665);left:-1432.80px;">៣០,២៣</div>
<div class="t e" style="top:1477.69px;font-size:19.50px;transform:scaleX(0.8665);left:-1308.90px;">២៣,៥២</div>
<div class="t e" style="top:1477.69px;font-size:19.50px;transform:scaleX(0.8665);left:-1185.00px;">១៦,៨១</div>
<div class="t l" style="top:1505.87px;font-size:22.46px;transform:scaleX(0.8939);left:107.10px;">ថៃ</div>
<div class="t e" style="top:1507.19px;font-size:19.50px;transform:scaleX(0.8665);left:-1432.80px;">៥៤,៤២</div>
<div class="t e" style="top:1507.19px;font-size:19.50px;transform:scaleX(0.8665);left:-1308.90px;">៥០,៩៦</div>
<div class="t e" style="top:1507.19px;font-size:19.50px;transform:scaleX(0.8665);left:-1185.00px;">៤៧,៧៤</div>
<div class="t l" style="top:1535.37px;font-size:22.46px;transform:scaleX(0.8939);left:107.10px;">វៀតណាម</div>
<div class="t e" style="top:1536.69px;font-size:19.50px;transform:scaleX(0.8665);left:-1432.80px;">១៨,៥២</div>
<div class="t e" style="top:1536.69px;font-size:19.50px;transform:scaleX(0.8665);left:-1308.90px;">១៦,៦៥</div>
<div class="t e" style="top:1536.69px;font-size:19.50px;transform:scaleX(0.8665);left:-1185.00px;">១៤,៥៧</div>
<div class="t l" style="top:1564.79px;font-size:22.67px;transform:scaleX(0.884);left:78.40px;">៣. បំណុលមរតក</div>
<div class="t e" style="top:1566.19px;font-size:19.50px;transform:scaleX(0.8665);left:-1432.80px;">៦៣១,៦៨</div>
<div class="t e" style="top:1566.19px;font-size:19.50px;transform:scaleX(0.8665);left:-1308.90px;">៦៣២.២៤</div>
<div class="t e" style="top:1566.19px;font-size:19.50px;transform:scaleX(0.8665);left:-1185.00px;">៦៣០,៧៤</div>
<div class="t l" style="top:1594.37px;font-size:22.46px;transform:scaleX(0.8939);left:107.10px;">បានដោះស្រាយរួច</div>
<div class="t e" style="top:1595.69px;font-size:19.50px;transform:scaleX(0.8665);left:-1432.80px;">១១,៦៤</div>
<div class="t e" style="top:1595.69px;font-size:19.50px;transform:scaleX(0.8665);left:-1308.90px;">១២,១៩</div>
<div class="t e" style="top:1595.69px;font-size:19.50px;transform:scaleX(0.8665);left:-1185.00px;">១០,៦៩</div>
<div class="t l" style="top:1623.87px;font-size:22.46px;transform:scaleX(0.8939);left:107.10px;">កំពុងដោះស្រាយ</div>
<div class="t e" style="top:1625.19px;font-size:19.50px;transform:scaleX(0.8665);left:-1432.80px;">៦២០,០៥</div>
<div class="t e" style="top:1625.19px;font-size:19.50px;transform:scaleX(0.8665);left:-1308.90px;">៦២០,០៥</div>
<div class="t e" style="top:1625.19px;font-size:19.50px;transform:scaleX(0.8665);left:-1185.00px;">៦២០,០៥</div>
<div class="t c" style="top:1655.34px;font-size:18.20px;left:-739.60px;">Total</div>
<div class="t e" style="top:1654.69px;font-size:19.50px;transform:scaleX(0.8665);left:-1432.80px;">៥ ៤៦៥,៧០</div>
<div class="t e" style="top:1654.69px;font-size:19.50px;transform:scaleX(0.8665);left:-1308.90px;">៦ ០៨១,៨៥</div>
<div class="t e" style="top:1654.69px;font-size:19.50px;transform:scaleX(0.8665);left:-1185.00px;">៦ ៦០៨,៦៧</div>
<div class="t l" style="top:1378.99px;font-size:26.57px;color:#5a9ea1;transform:scaleX(0.9258);left:668.40px;">ខ. ពហុភាគី</div>
<div class="t c" style="top:1414.81px;font-size:22.78px;transform:scaleX(0.8848);left:-167.00px;">ឥណទាយក</div>
<div class="t c" style="top:1415.24px;font-size:19.79px;transform:scaleX(0.8793);left:-40.00px;">២០១៩</div>
<div class="t c" style="top:1415.24px;font-size:19.79px;transform:scaleX(0.8793);left:84.60px;">២០២០</div>
<div class="t c" style="top:1415.24px;font-size:19.79px;transform:scaleX(0.8793);left:208.60px;">២០២១</div>
<div class="t c" style="top:1448.27px;font-size:18.40px;left:-166.80px;">ADB</div>
<div class="t e" style="top:1447.69px;font-size:19.50px;transform:scaleX(0.8665);left:-886.00px;">១ ៤៣១,១៤</div>
<div class="t e" style="top:1447.69px;font-size:19.50px;transform:scaleX(0.8665);left:-761.40px;">១ ៨៥៦,៣៣</div>
<div class="t e" style="top:1447.69px;font-size:19.50px;transform:scaleX(0.8665);left:-637.40px;">១,៩៤២,៧៣</div>
<div class="t c" style="top:1477.80px;font-size:18.40px;left:-166.80px;">AIIB</div>
<div class="t e" style="top:1476.62px;font-size:19.50px;transform:scaleX(0.8665);left:-888.50px;">-</div>
<div class="t e" style="top:1476.62px;font-size:19.50px;transform:scaleX(0.8665);left:-763.90px;">-</div>
<div class="t e" style="top:1477.22px;font-size:19.50px;transform:scaleX(0.8665);left:-637.40px;">៥,០០</div>
<div class="t c" style="top:1507.33px;font-size:18.40px;left:-166.80px;">EIB</div>
<div class="t e" style="top:1506.15px;font-size:19.50px;transform:scaleX(0.8665);left:-888.50px;">-</div>
<div class="t e" style="top:1506.75px;font-size:19.50px;transform:scaleX(0.8665);left:-761.40px;">៥៤,៣២</div>
<div class="t e" style="top:1506.75px;font-size:19.50px;transform:scaleX(0.8665);left:-637.40px;">៧១,៨៤</div>
<div class="t c" style="top:1536.86px;font-size:18.40px;left:-166.80px;">WB</div>
<div class="t e" style="top:1536.28px;font-size:19.50px;transform:scaleX(0.8665);left:-886.00px;">៥៨៦,០០</div>
<div class="t e" style="top:1536.28px;font-size:19.50px;transform:scaleX(0.8665);left:-761.40px;">៦៨៦,៣២</div>
<div class="t e" style="top:1536.28px;font-size:19.50px;transform:scaleX(0.8665);left:-637.40px;">៧២៩,៧២</div>
<div class="t c" style="top:1566.39px;font-size:18.40px;left:-166.80px;">IFAD</div>
<div class="t e" style="top:1565.81px;font-size:19.50px;transform:scaleX(0.8665);left:-886.00px;">៧៣,៨៤</div>
<div class="t e" style="top:1565.81px;font-size:19.50px;transform:scaleX(0.8665);left:-761.40px;">៩៤,៧៤</div>
<div class="t e" style="top:1565.81px;font-size:19.50px;transform:scaleX(0.8665);left:-637.40px;">១០២,៣០</div>
<div class="t c" style="top:1595.92px;font-size:18.40px;left:-166.80px;">NDF</div>
<div class="t e" style="top:1595.34px;font-size:19.50px;transform:scaleX(0.8665);left:-886.00px;">៩,១៨</div>
<div class="t e" style="top:1595.34px;font-size:19.50px;transform:scaleX(0.8665);left:-761.40px;">៩,៨២</div>
<div class="t e" style="top:1595.34px;font-size:19.50px;transform:scaleX(0.8665);left:-637.40px;">៨,៨៦</div>
<div class="t c" style="top:1625.45px;font-size:18.40px;left:-166.80px;">OFID</div>
<div class="t e" style="top:1624.87px;font-size:19.50px;transform:scaleX(0.8665);left:-886.00px;">៣០,៨១</div>
<div class="t e" style="top:1624.87px;font-size:19.50px;transform:scaleX(0.8665);left:-761.40px;">២៧,០៥</div>
<div class="t e" style="top:1624.87px;font-size:19.50px;transform:scaleX(0.8665);left:-637.40px;">២៣,៥៤</div>
<div class="t c" style="top:1654.98px;font-size:18.40px;left:-166.80px;">Total</div>
<div class="t e" style="top:1654.40px;font-size:19.50px;transform:scaleX(0.8665);left:-886.00px;">២ ១៣០,៩៧</div>
<div class="t e" style="top:1654.40px;font-size:19.50px;transform:scaleX(0.8665);left:-761.40px;">២ ៧២៨,៥៨</div>
<div class="t e" style="top:1654.40px;font-size:19.50px;transform:scaleX(0.8665);left:-637.40px;">២ ៨៨៣,៩៩</div>
<div class="t c" style="top:1109.37px;font-size:22.31px;transform:scaleX(0.8731);left:8.70px;">២០២១</div>
<div class="t c" style="top:1174.54px;font-size:19.81px;color:#58aade;transform:scaleX(0.8608);left:8.70px;">ទ្វេភាគី</div>
<div class="t c" style="top:1199.58px;font-size:19.11px;color:#58aade;transform:scaleX(0.8549);left:11.20px;">៦ ៦០៨,៦៧</div>
<div class="t c" style="top:1241.24px;font-size:32.78px;color:#5ba59e;transform:scaleX(0.9292);left:7.60px;">បំណុលសរុប</div>
<div class="t c" style="top:1269.48px;font-size:19.11px;color:#5ba59e;transform:scaleX(0.8549);left:9.30px;">៩ ៤៩២,៦៥</div>
<div class="t c" style="top:1302.10px;font-size:19.63px;transform:scaleX(0.8918);left:9.10px;">ពហុភាគី</div>
<div class="t c" style="top:1325.28px;font-size:19.11px;transform:scaleX(0.8549);left:9.20px;">២ ៨៨៣,៩៩</div>
<div class="t l" style="top:1118.41px;font-size:20.46px;transform:scaleX(0.8824);left:678.50px;">បំណុលមរតក</div>
<div class="t l" style="top:1138.97px;font-size:19.70px;transform:scaleX(0.8764);left:678.50px;">៦,៦៤%</div>
<div class="t l" style="top:1184.31px;font-size:20.46px;transform:scaleX(0.8824);left:678.50px;">សមាជិក</div>
<div class="t l" style="top:1209.71px;font-size:20.46px;transform:scaleX(0.8824);left:678.50px;">ក្លឹបប៉ារីស</div>
<div class="t l" style="top:1233.87px;font-size:19.70px;transform:scaleX(0.8764);left:678.50px;">១៩,៤៦%</div>
<div class="t l" style="top:1274.91px;font-size:20.46px;transform:scaleX(0.8824);left:678.50px;">មិនមែន</div>
<div class="t l" style="top:1295.31px;font-size:20.46px;transform:scaleX(0.8824);left:678.50px;">សមាជិកក្លឹប</div>
<div class="t l" style="top:1315.11px;font-size:20.46px;transform:scaleX(0.8824);left:678.50px;">ប៉ារីស</div>
<div class="t l" style="top:1335.77px;font-size:19.70px;transform:scaleX(0.8764);left:678.50px;">៤៣,៥២%</div>
<div class="t e" style="top:1137.02px;font-size:18.40px;left:-647.60px;">ADB</div>
<div class="t e" style="top:1156.67px;font-size:19.70px;transform:scaleX(0.8764);left:-647.60px;">២០,៤៧%</div>
<div class="t e" style="top:1200.82px;font-size:18.40px;left:-647.60px;">WB</div>
<div class="t e" style="top:1220.77px;font-size:19.70px;transform:scaleX(0.8764);left:-647.60px;">៧,៦៩%</div>
<div class="t e" style="top:1283.82px;font-size:18.40px;left:-647.60px;">AIIB, EIB,</div>
<div class="t e" style="top:1304.02px;font-size:18.40px;left:-647.60px;">IFAD, NDF</div>
<div class="t e" style="top:1323.72px;font-size:18.40px;left:-647.60px;">&amp; OFID</div>
<div class="t e" style="top:1343.47px;font-size:19.70px;transform:scaleX(0.8764);left:-647.60px;">២,២២%</div>
<div class="t c" style="top:1696.14px;font-size:19.50px;color:#a3a3a3;font-style:italic;left:-280.00px;">45</div>
<div class="t l" style="left:44.94px;top:1687.50px;height:20px;line-height:20px;font-size:12.68px;color:#6b6b6b;transform-origin:0 0;transform:rotate(-90deg) scaleX(0.8768);font-style:italic;">ប្រភព៖ ព្រឹត្តិបត្រស្ថិតិបំណុលសាធារណៈកម្ពុជាឆ្នាំ២០២១ លេខ១៣ ទិន្នន័យត្រឹមដំណាច់ឆ្នាំ២០២១ | ក្រសួងសេដ្ឋកិច្ច និងហិរញ្ញវត្ថុ</div>
<div class="t l" style="left:1185.54px;top:1687.50px;height:20px;line-height:20px;font-size:12.64px;color:#6b6b6b;transform-origin:0 0;transform:rotate(-90deg) scaleX(0.8742);font-style:italic;">ក្រុមការងារសម្របសម្រួលការទូតសេដ្ឋកិច្ច - ព្រឹត្តិបត្រស្ថិតិបំណុលសាធារណៈ ឆ្នាំ២០២១ - ចេញផ្សាយខែមីនា ឆ្នាំ២០២២</div>

</body></html>
